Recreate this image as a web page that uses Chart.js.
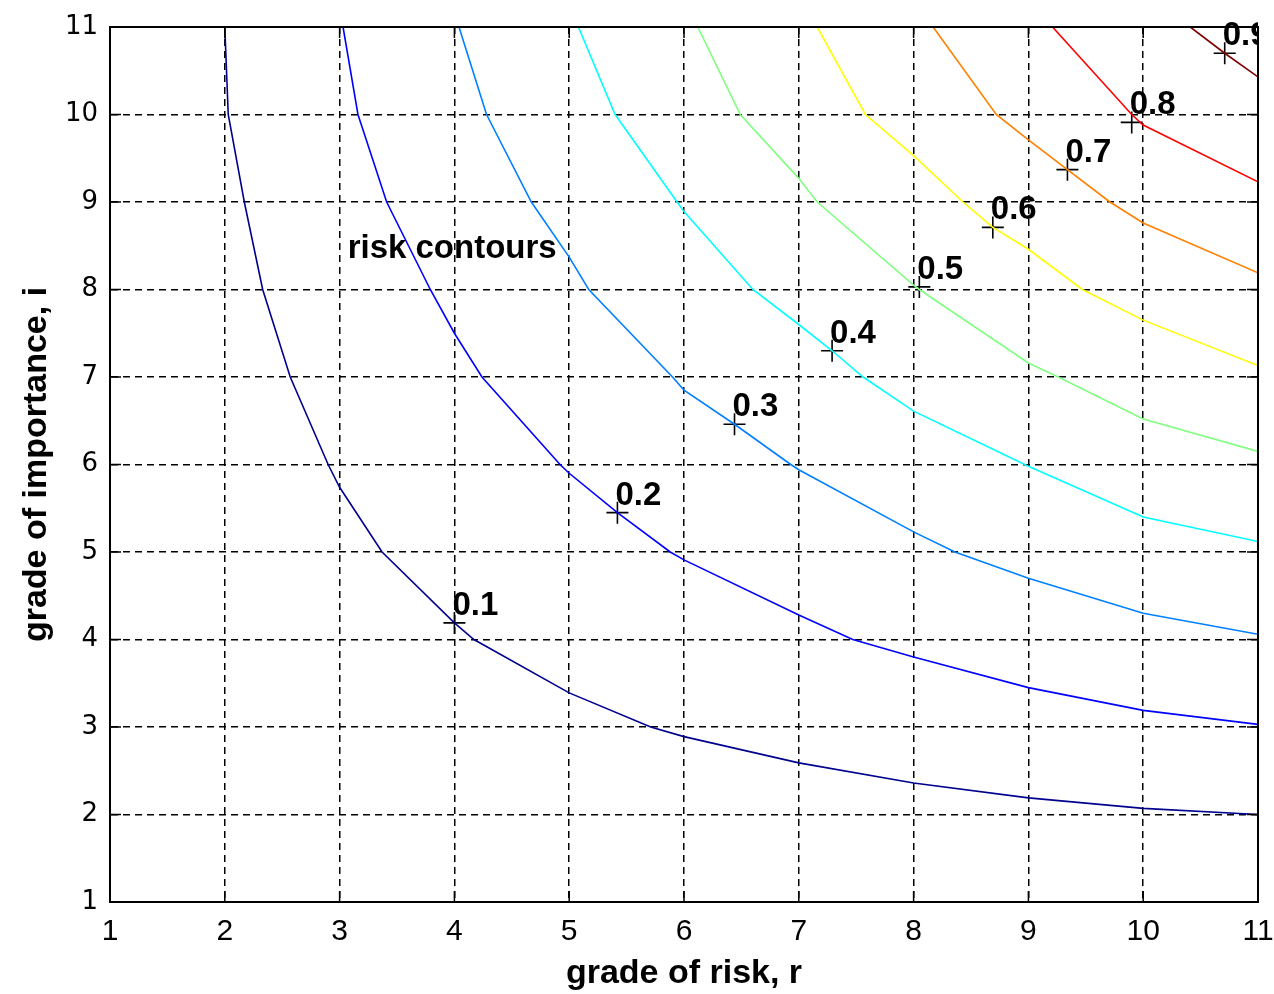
<!DOCTYPE html>
<html>
<head>
<meta charset="utf-8">
<title>risk contours</title>
<script src="https://cdn.jsdelivr.net/npm/chart.js@4.4.1/dist/chart.umd.min.js"></script>
<style>
html,body{margin:0;padding:0;background:#fff;}
#wrap{width:1274px;height:994px;position:relative;}
</style>
</head>
<body>
<div id="wrap"><canvas id="c"></canvas></div>
<script>
// contour levels and their colours (jet)
const levels = ["0.1","0.2","0.3","0.4","0.5","0.6","0.7","0.8","0.9"]
const colors = ["#00008f","#0000ff","#0080ff","#00ffff","#80ff80","#ffff00","#ff8000","#ff0000","#800000"]

// contour polylines (r = x, i = y)
const c01x = [2, 2.03, 2.17, 2.33, 2.57, 2.9, 3, 3.37, 4, 4.17, 5, 5.71, 6, 7, 8, 9, 10, 11]
const c01y = [11, 10, 9, 8, 7, 6, 5.74, 5, 4.19, 4, 3.39, 3, 2.89, 2.59, 2.36, 2.19, 2.07, 2.0]
const c02x = [3.03, 3.16, 3.41, 3.79, 4, 4.24, 4.92, 5, 5.42, 5.88, 6, 7, 7.47, 8, 9, 10, 11]
const c02y = [11, 10, 9, 8, 7.5, 7, 6, 5.9, 5.45, 5, 4.91, 4.28, 4, 3.8, 3.45, 3.19, 3.03]
const c03x = [4.04, 4.28, 4.67, 5, 5.17, 5.9, 6, 6.44, 6.93, 7, 8, 8.36, 9, 10, 11]
const c03y = [11, 10, 9, 8.37, 8, 7, 6.85, 6.46, 6, 5.94, 5.23, 5, 4.7, 4.3, 4.06]
const c04x = [5.08, 5.40, 5.94, 6, 6.6, 7, 7.29, 7.56, 8, 9, 10, 11]
const c04y = [11, 10, 9, 8.89, 8, 7.6, 7.3, 7, 6.61, 5.98, 5.4, 5.12]
const c05x = [6.12, 6.49, 7, 7.16, 8, 8.05, 9, 9.26, 10, 11]
const c05y = [11, 10, 9.27, 9, 8.05, 8, 7.16, 7, 6.52, 6.15]
const c06x = [7.16, 7.58, 8, 8.43, 8.69, 9, 9.47, 10, 11]
const c06y = [11, 10, 9.53, 9, 8.71, 8.46, 8, 7.65, 7.13]
const c07x = [8.17, 8.72, 9, 9.34, 9.71, 10, 11]
const c07y = [11, 10, 9.71, 9.37, 9, 8.76, 8.19]
const c08x = [9.21, 9.9, 10, 11]
const c08y = [11, 10, 9.88, 9.23]
const c09x = [10.41, 10.71, 11]
const c09y = [11, 10.70, 10.43]

// clabel positions (+ marks)
const labelX = [4.0, 5.42, 6.44, 7.29, 8.05, 8.69, 9.34, 9.90, 10.71]
const labelY = [4.19, 5.45, 6.46, 7.30, 8.03, 8.71, 9.37, 9.91, 10.70]

// free text
const noteText = "risk contours"
const noteX = 3.07
const noteY = 8.36

const ticks = [1,2,3,4,5,6,7,8,9,10,11]

const allX = [c01x,c02x,c03x,c04x,c05x,c06x,c07x,c08x,c09x]
const allY = [c01y,c02y,c03y,c04y,c05y,c06y,c07y,c08y,c09y]

let datasets = []
for(let k=0;k<levels.length;k++){
  let pts = allX[k].map((v,j)=>({x:v,y:allY[k][j]}))
  datasets.push({
    label:levels[k],
    data:pts,
    showLine:true,
    borderColor:colors[k],
    borderWidth:1.6,
    pointRadius:0,
    tension:0,
    fill:false
  })
}
datasets.push({
  label:"marks",
  data:labelX.map((v,j)=>({x:v,y:labelY[j]})),
  showLine:false,
  pointStyle:"cross",
  pointRadius:11,
  pointBorderColor:"#000",
  pointBorderWidth:1.6,
  borderColor:"#000"
})

const txtFont = 'bold 33px "Liberation Sans", Arial, sans-serif'

const decor = {
  id:"decor",
  afterDatasetsDraw(chart){
    let ctx = chart.ctx
    let xs = chart.scales.x, ys = chart.scales.y
    let a = chart.chartArea
    ctx.save()
    // inward ticks
    ctx.strokeStyle = "#000"
    ctx.lineWidth = 1.5
    ctx.setLineDash([])
    ctx.beginPath()
    ticks.forEach(t=>{
      let px = xs.getPixelForValue(t)
      ctx.moveTo(px,a.bottom); ctx.lineTo(px,a.bottom-11)
      ctx.moveTo(px,a.top); ctx.lineTo(px,a.top+11)
      let py = ys.getPixelForValue(t)
      ctx.moveTo(a.left,py); ctx.lineTo(a.left+11,py)
      ctx.moveTo(a.right,py); ctx.lineTo(a.right-11,py)
    })
    ctx.stroke()
    // box
    ctx.lineWidth = 2
    ctx.strokeRect(a.left,a.top,a.right-a.left,a.bottom-a.top)
    // contour labels
    ctx.fillStyle = "#000"
    ctx.font = txtFont
    ctx.textAlign = "left"
    ctx.textBaseline = "alphabetic"
    ctx.save()
    ctx.beginPath()
    ctx.rect(a.left,0,a.right-a.left,a.bottom)
    ctx.clip()
    for(let k=0;k<levels.length;k++){
      ctx.fillText(levels[k], xs.getPixelForValue(labelX[k])-2, ys.getPixelForValue(labelY[k])-8)
    }
    ctx.restore()
    ctx.fillText(noteText, xs.getPixelForValue(noteX), ys.getPixelForValue(noteY))
    ctx.restore()
  }
}

new Chart(document.getElementById("c"),{
  type:"scatter",
  data:{datasets:datasets},
  options:{
    responsive:true,
    maintainAspectRatio:false,
    animation:false,
    layout:{padding:{top:27,right:16,left:0,bottom:0}},
    plugins:{legend:{display:false},tooltip:{enabled:false}},
    scales:{
      x:{
        type:"linear",
        min:1,max:11,
        afterBuildTicks(s){ s.ticks = ticks.map(v=>({value:v})) },
        afterFit(s){ s.height = 92; s.paddingLeft = 0; s.paddingRight = 0 },
        ticks:{color:"#000",padding:12,font:{family:'"Liberation Sans Narrow", "Liberation Sans", Arial',size:30}},
        grid:{color:"#000",lineWidth:1.5,drawTicks:false},
        border:{display:true,color:"#000",width:2,dash:[7,5]},
        title:{display:true,text:"grade of risk, r",color:"#000",padding:{top:8,bottom:0},
          font:{family:'"Liberation Sans", Arial',size:34,weight:"bold"}}
      },
      y:{
        type:"linear",
        min:1,max:11,
        afterBuildTicks(s){ s.ticks = ticks.map(v=>({value:v})) },
        afterFit(s){ s.width = 110; s.paddingTop = 0; s.paddingBottom = 0 },
        ticks:{color:"#000",padding:12,font:{family:'"DejaVu Sans", sans-serif',size:26}},
        grid:{color:"#000",lineWidth:1.5,drawTicks:false},
        border:{display:true,color:"#000",width:2,dash:[7,5]},
        title:{display:true,text:"grade of importance, i",color:"#000",padding:{top:16,bottom:0},
          font:{family:'"Liberation Sans", Arial',size:34,weight:"bold"}}
      }
    }
  },
  plugins:[decor]
})
</script>
</body>
</html>
